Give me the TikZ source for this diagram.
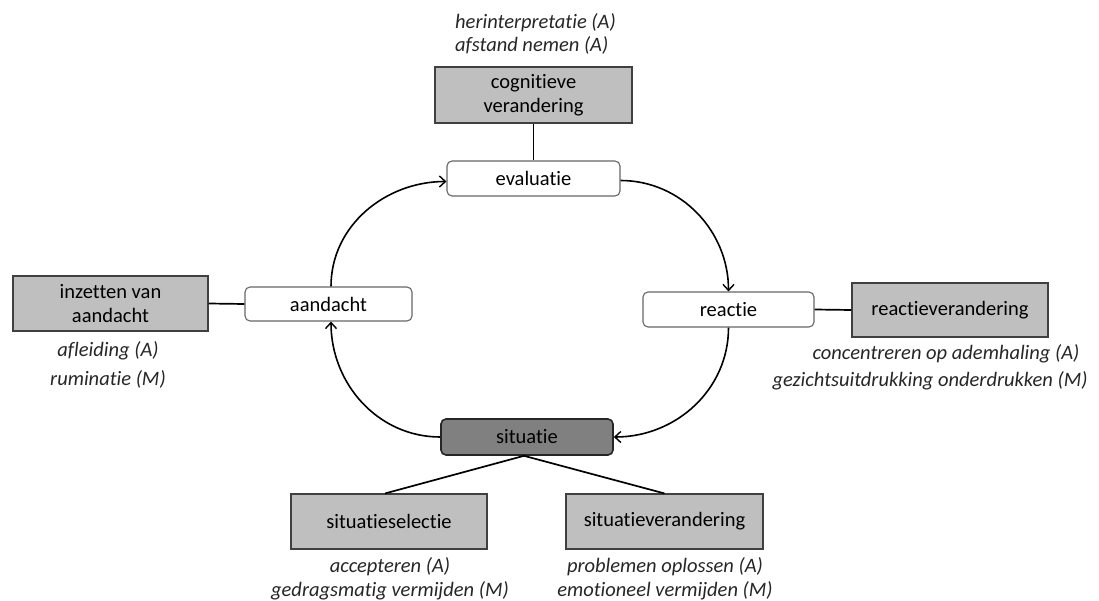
\documentclass[tikz,border=0pt]{standalone}
\usepackage{fontspec}
\setmainfont{Carlito}[Ligatures={NoCommon}]
\usetikzlibrary{arrows.meta}
\begin{document}
\begin{tikzpicture}[x=1pt,y=-1pt,
  every node/.style={font=\fontsize{20.5}{24}\selectfont, inner sep=0pt, align=center},
  graybox/.style={draw=black!75, fill=black!25, line width=1.1pt},
  roundbox/.style={draw=black!60, fill=white, rounded corners=5pt, line width=1.1pt},
  sitbox/.style={draw=black!85, fill=black!50, rounded corners=5pt, line width=1.6pt},
  note/.style={font=\fontsize{20.5}{23.5}\selectfont\itshape, text=black!85},
  conn/.style={line width=1.7pt},
  arr/.style={line width=1.6pt, -{Straight Barb[length=6pt,width=11pt,line width=1.4pt]}}
]
\useasboundingbox (0,0) rectangle (1099,601);
% process nodes
\node[roundbox, minimum width=173pt, minimum height=35pt] (evaluatie) at (533.5,178.5) {evaluatie};
\node[roundbox, minimum width=167pt, minimum height=34pt] (aandacht) at (328.5,304) {aandacht};
\node[roundbox, minimum width=171pt, minimum height=35pt] (reactie) at (728.5,309.5) {reactie};
\node[sitbox, minimum width=172pt, minimum height=36pt] (situatie) at (527,437) {situatie};
% strategy boxes
\node[graybox, minimum width=197pt, minimum height=56pt] (cog) at (533.5,95) {cognitieve\\verandering};
\node[graybox, minimum width=195pt, minimum height=55pt] (inzet) at (110.5,303.5) {inzetten van\\aandacht};
\node[graybox, minimum width=196pt, minimum height=54pt] (reactv) at (950,310) {reactieverandering};
\node[graybox, minimum width=196pt, minimum height=55pt] (sitsel) at (389,521.5) {situatieselectie};
\node[graybox, minimum width=197pt, minimum height=55pt] (sitver) at (664.5,521.5) {situatieverandering};
% notes
\node[note, align=left, anchor=north west] (cognote) at (455,13) {herinterpretatie (A)\\afstand nemen (A)};
\node[note] (afl) at (108,351) {afleiding (A)};
\node[note] (rum) at (108,379) {ruminatie (M)};
\node[note] (conc) at (946,354) {concentreren op ademhaling (A)};
\node[note] (gez) at (930,381) {gezichtsuitdrukking onderdrukken (M)};
\node[note] (acc) at (390,579) {accepteren (A)\\gedragsmatig vermijden (M)};
\node[note] (prob) at (665,579) {problemen oplossen (A)\\emotioneel vermijden (M)};
% connectors
\coordinate (sitbot) at ([xshift=-3pt]situatie.south);
\draw[conn] (cog.south) -- (evaluatie.north);
\draw[conn] (inzet.east) -- (aandacht.west);
\draw[conn] (reactie.east) -- (reactv.west);
\draw[conn] (sitbot) -- ([xshift=-4pt]sitsel.north);
\draw[conn] (sitbot) -- (sitver.north);
% cycle arrows
\draw[arr] ([xshift=2.5pt]aandacht.north) to[out=90,in=180] ([yshift=-3pt]evaluatie.west);
\draw[arr] ([yshift=-2pt]evaluatie.east) to[out=0,in=90] (reactie.north);
\draw[arr] (reactie.south) to[out=-90,in=0] (situatie.east);
\draw[arr] (situatie.west) to[out=180,in=-90] ([xshift=2.5pt]aandacht.south);
\end{tikzpicture}
\end{document}
